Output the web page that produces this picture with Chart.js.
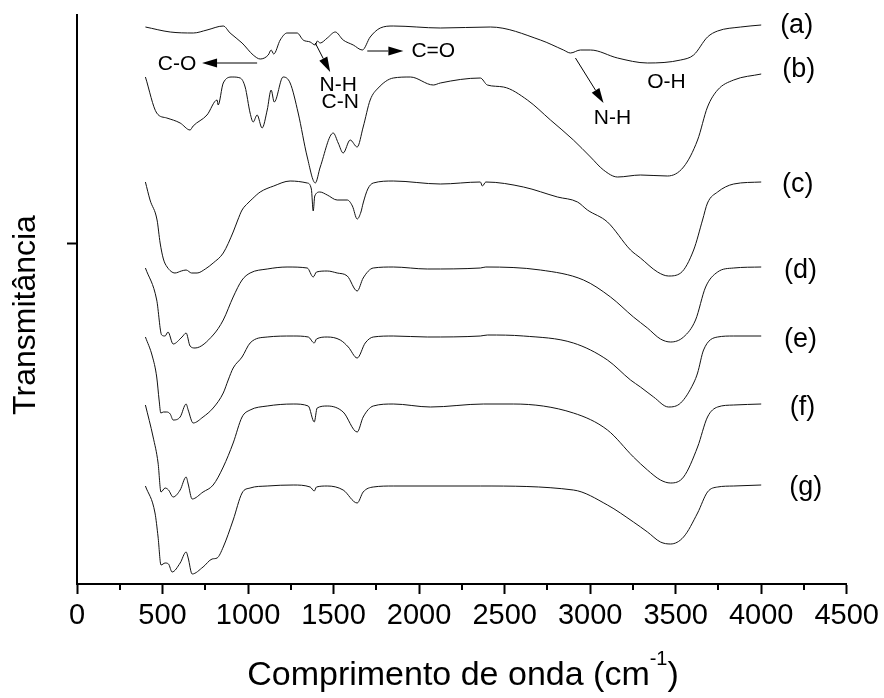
<!DOCTYPE html>
<html>
<head>
<meta charset="utf-8">
<script src="https://cdn.jsdelivr.net/npm/chart.js@4.4.0/dist/chart.umd.min.js"></script>
<style>
  body { margin: 0; background: #fff; }
  #wrap { width: 884px; height: 698px; }
</style>
</head>
<body>
<div id="wrap"><canvas id="ftir"></canvas></div>
<script>
// wavenumber (cm-1) and offset transmittance (a.u.) for each spectrum
const wnA = [400, 545, 680, 760, 855, 895, 965, 1030, 1071, 1118, 1135, 1150, 1188, 1228, 1287, 1322, 1363, 1393, 1405, 1422, 1463, 1510, 1556, 1615, 1668, 1714, 1773, 1849, 2124, 2417, 2709, 2844, 2885, 2943, 3002, 3160, 3335, 3529, 3605, 3686, 3745, 3880, 4000]
const tA = [557, 552, 551, 554, 558, 551, 541, 529, 525, 529, 534, 530, 544, 551, 551, 544, 542, 539, 543, 541, 546, 552, 544, 539, 534, 547, 556, 558, 556, 557, 544, 534, 531, 534, 534, 526, 521, 524, 529, 547, 553, 557, 559]

const wnB = [400, 466, 525, 603, 661, 679, 760, 819, 825, 855, 907, 954, 983, 1012, 1030, 1053, 1082, 1112, 1135, 1153, 1205, 1246, 1293, 1346, 1393, 1422, 1498, 1527, 1556, 1597, 1638, 1673, 1714, 1761, 1849, 1949, 2083, 2124, 2358, 2399, 2493, 2633, 2768, 2902, 3002, 3078, 3160, 3294, 3452, 3546, 3628, 3686, 3745, 3839, 4000]
const tB = [507, 471, 466, 461, 454, 458, 469, 484, 479, 501, 507, 506, 497, 471, 462, 469, 456, 474, 494, 482, 507, 501, 471, 427, 401, 417, 451, 441, 431, 444, 437, 457, 484, 496, 506, 507, 499, 501, 506, 499, 497, 484, 464, 444, 427, 414, 407, 409, 408, 417, 444, 477, 494, 504, 510]

const wnC = [400, 427, 468, 486, 505, 527, 573, 610, 638, 670, 702, 750, 796, 855, 913, 940, 965, 1000, 1024, 1071, 1150, 1246, 1346, 1370, 1381, 1390, 1420, 1463, 1521, 1580, 1610, 1638, 1660, 1673, 1700, 1732, 1849, 2124, 2358, 2370, 2390, 2610, 2809, 2926, 2984, 3101, 3236, 3294, 3394, 3458, 3529, 3605, 3657, 3686, 3745, 3839, 4000]
const tC = [402, 384, 364, 341, 325, 317, 311, 313, 314, 311, 311, 315, 321, 331, 352, 364, 374, 381, 385, 392, 398, 403, 401, 395, 373, 388, 392, 389, 384, 384, 378, 365, 372, 381, 395, 401, 403, 400, 402, 398, 402, 397, 387, 382, 374, 362, 334, 326, 312, 308, 311, 334, 364, 381, 392, 400, 402]

const wnD = [400, 466, 495, 515, 532, 562, 614, 638, 661, 690, 796, 855, 913, 965, 1012, 1112, 1228, 1346, 1381, 1400, 1463, 1521, 1580, 1638, 1673, 1732, 1849, 2048, 2358, 2390, 2709, 2961, 3119, 3253, 3335, 3411, 3470, 3546, 3616, 3675, 3745, 3839, 4000]
const tD = [316, 284, 249, 248, 252, 240, 247, 251, 238, 236, 249, 264, 287, 304, 311, 315, 317, 316, 307, 312, 313, 311, 308, 293, 306, 316, 317, 315, 316, 317, 314, 304, 287, 267, 256, 245, 242, 247, 264, 297, 312, 316, 317]

const wnE = [400, 440, 466, 480, 490, 505, 525, 545, 562, 603, 638, 650, 679, 737, 796, 855, 884, 913, 965, 1012, 1112, 1264, 1352, 1387, 1400, 1463, 1539, 1586, 1638, 1685, 1732, 1849, 2048, 2358, 2400, 2610, 2902, 3101, 3236, 3294, 3371, 3458, 3529, 3605, 3628, 3663, 3745, 3839, 4000]
const tE = [247, 228, 207, 184, 171, 172, 172, 170, 164, 167, 180, 174, 161, 167, 176, 191, 204, 216, 227, 241, 247, 248, 247, 241, 245, 247, 244, 237, 226, 241, 247, 248, 247, 248, 249, 248, 241, 224, 204, 197, 187, 177, 181, 201, 211, 234, 247, 248, 248]

const wnF = [400, 445, 474, 491, 515, 535, 562, 603, 638, 650, 673, 737, 796, 855, 913, 965, 1012, 1112, 1264, 1352, 1387, 1404, 1463, 1556, 1638, 1673, 1732, 1849, 2066, 2376, 2551, 2902, 3101, 3253, 3335, 3411, 3470, 3546, 3628, 3686, 3745, 3839, 4000]
const tF = [179, 147, 121, 92, 96, 94, 87, 94, 107, 100, 85, 92, 99, 117, 141, 167, 174, 178, 180, 178, 162, 176, 178, 172, 152, 167, 178, 180, 177, 180, 180, 171, 154, 127, 114, 104, 101, 107, 137, 167, 177, 179, 180]

const wnG = [400, 456, 474, 491, 515, 535, 556, 603, 638, 650, 673, 737, 790, 819, 855, 913, 965, 1012, 1112, 1264, 1363, 1387, 1400, 1463, 1556, 1638, 1673, 1732, 1849, 2358, 2902, 3101, 3253, 3335, 3411, 3470, 3546, 3628, 3686, 3745, 3839, 4000]
const tG = [98, 71, 47, 19, 21, 20, 12, 21, 32, 26, 10, 17, 25, 26, 37, 64, 91, 96, 98, 99, 97, 93, 97, 98, 94, 81, 92, 97, 98, 98, 94, 79, 62, 52, 42, 40, 47, 71, 92, 97, 98, 99]

const spectra = ['(a)', '(b)', '(c)', '(d)', '(e)', '(f)', '(g)']
const xTicks = [0, 500, 1000, 1500, 2000, 2500, 3000, 3500, 4000, 4500]

// where the curve names and band labels sit (data coordinates)
const nameX = [4207, 4219, 4213, 4230, 4230, 4242, 4260]
const nameY = [558, 514, 399, 313, 244, 176, 96]
const bandText = ['C-O', 'C=O', 'N-H', 'C-N', 'N-H', 'O-H']
const bandX = [585, 2083, 1527, 1539, 3130, 3446]
const bandY = [520, 533, 499, 482, 466, 502]
// arrows: from [x,y] to [x,y]
const arrows = [
    [1053, 521, 731, 521],
    [1697, 533, 1908, 533],
    [1393, 541, 1480, 512],
    [2914, 526, 3078, 481]
]

const FONT = '"Liberation Sans", Arial, Helvetica, sans-serif'

function toPoints (xs, ys) {
    return xs.map(function (x, i) { return { x: x, y: ys[i] } })
}

const allX = [wnA, wnB, wnC, wnD, wnE, wnF, wnG]
const allY = [tA, tB, tC, tD, tE, tF, tG]

let datasets = spectra.map(function (name, i) {
    return {
        label: name,
        data: toPoints(allX[i], allY[i]),
        borderColor: '#111',
        borderWidth: 1,
        pointRadius: 0,
        cubicInterpolationMode: 'monotone',
        fill: false
    }
})

const extras = {
    id: 'extras',
    afterDraw: function (chart) {
        let ctx = chart.ctx
        let xs = chart.scales.x
        let ys = chart.scales.y
        let area = chart.chartArea
        ctx.save()
        ctx.fillStyle = '#000'
        ctx.strokeStyle = '#000'

        // minor ticks
        ctx.lineWidth = 2
        for (let v = 250; v < 4500; v += 500) {
            let px = Math.round(xs.getPixelForValue(v))
            ctx.beginPath()
            ctx.moveTo(px, area.bottom)
            ctx.lineTo(px, area.bottom + 6)
            ctx.stroke()
        }

        // curve names
        ctx.font = '27px ' + FONT
        ctx.textAlign = 'center'
        ctx.textBaseline = 'middle'
        spectra.forEach(function (name, i) {
            ctx.fillText(name, xs.getPixelForValue(nameX[i]), ys.getPixelForValue(nameY[i]))
        })

        // band labels
        ctx.font = '21px ' + FONT
        bandText.forEach(function (t, i) {
            ctx.fillText(t, xs.getPixelForValue(bandX[i]), ys.getPixelForValue(bandY[i]))
        })

        // arrows
        ctx.lineWidth = 1
        arrows.forEach(function (a) {
            let x1 = xs.getPixelForValue(a[0]), y1 = ys.getPixelForValue(a[1])
            let x2 = xs.getPixelForValue(a[2]), y2 = ys.getPixelForValue(a[3])
            let ang = Math.atan2(y2 - y1, x2 - x1)
            let hl = 15, hw = 4.5
            ctx.beginPath()
            ctx.moveTo(x1, y1)
            ctx.lineTo(x2 - hl * Math.cos(ang), y2 - hl * Math.sin(ang))
            ctx.stroke()
            ctx.beginPath()
            ctx.moveTo(x2, y2)
            ctx.lineTo(x2 - hl * Math.cos(ang) + hw * Math.sin(ang), y2 - hl * Math.sin(ang) - hw * Math.cos(ang))
            ctx.lineTo(x2 - hl * Math.cos(ang) - hw * Math.sin(ang), y2 - hl * Math.sin(ang) + hw * Math.cos(ang))
            ctx.closePath()
            ctx.fill()
        })

        // x title with superscript
        let big = '34px ' + FONT, small = '20px ' + FONT
        let p1 = 'Comprimento de onda (cm', p2 = '-1', p3 = ')'
        ctx.font = big
        let w1 = ctx.measureText(p1).width, w3 = ctx.measureText(p3).width
        ctx.font = small
        let w2 = ctx.measureText(p2).width
        let total = w1 + w2 + w3
        let cx = 463
        let sx = cx - total / 2
        let base = 685
        ctx.textAlign = 'left'
        ctx.textBaseline = 'alphabetic'
        ctx.font = big
        ctx.fillText(p1, sx, base)
        ctx.font = small
        ctx.fillText(p2, sx + w1, base - 20)
        ctx.font = big
        ctx.fillText(p3, sx + w1 + w2, base)

        // y title
        ctx.translate(35, 315)
        ctx.rotate(-Math.PI / 2)
        ctx.font = '32px ' + FONT
        ctx.textAlign = 'center'
        ctx.fillText('Transmitância', 0, 0)
        ctx.restore()
    }
}

let chartFtir = new Chart(document.getElementById('ftir').getContext('2d'), {
    type: 'line',
    data: { datasets: datasets },
    plugins: [extras],
    options: {
        responsive: true,
        maintainAspectRatio: false,
        animation: false,
        layout: { padding: { left: 67, right: 14, top: 15, bottom: 0 } },
        plugins: { legend: { display: false }, tooltip: { enabled: false } },
        scales: {
            x: {
                type: 'linear',
                min: 0,
                max: 4500,
                afterBuildTicks: function (s) { s.ticks = xTicks.map(function (v) { return { value: v } }) },
                afterFit: function (s) { s.height = 114 },
                ticks: {
                    color: '#000',
                    padding: 5,
                    font: { family: FONT, size: 29 },
                    maxRotation: 0,
                    autoSkip: false,
                    callback: function (v) { return String(v) }
                },
                grid: { drawOnChartArea: false, drawTicks: true, tickLength: 10, tickWidth: 2, tickColor: '#000' },
                border: { display: true, color: '#000', width: 2 }
            },
            y: {
                type: 'linear',
                min: 0,
                max: 569,
                afterBuildTicks: function (s) { s.ticks = [{ value: 341 }] },
                afterFit: function (s) { s.width = 10 },
                ticks: { display: false },
                grid: { drawOnChartArea: false, drawTicks: true, tickLength: 10, tickWidth: 2, tickColor: '#000' },
                border: { display: true, color: '#000', width: 2 }
            }
        }
    }
})
</script>
</body>
</html>
